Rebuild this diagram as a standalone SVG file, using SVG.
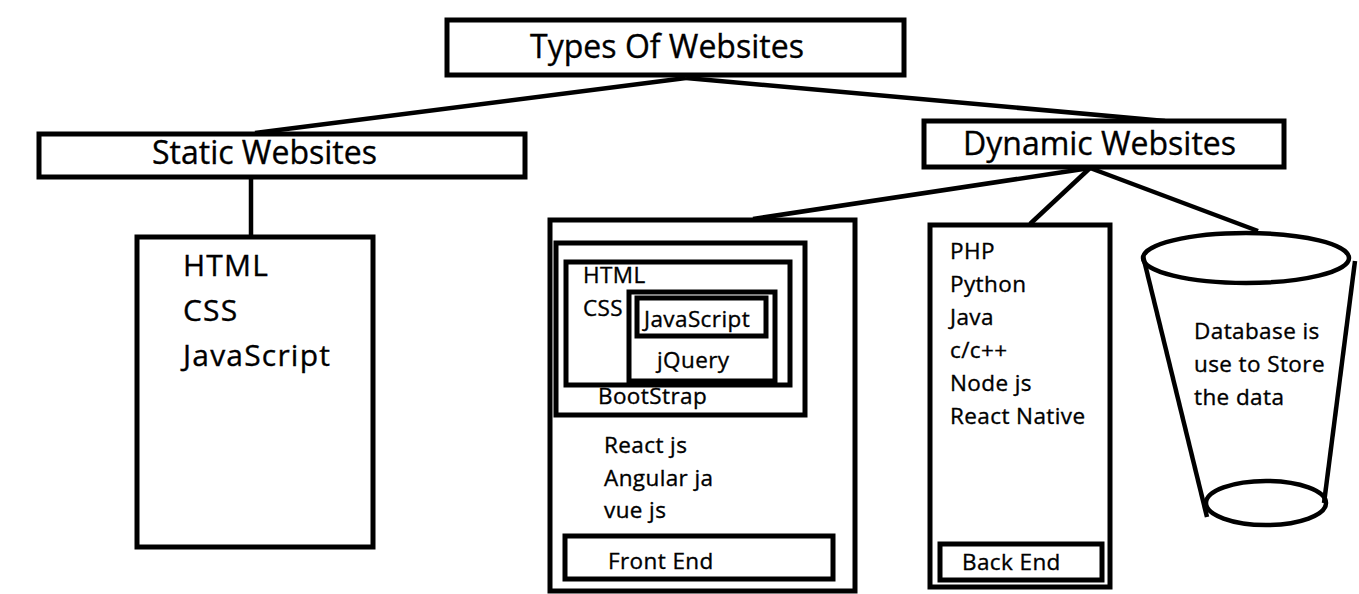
<svg xmlns="http://www.w3.org/2000/svg" width="1359" height="594" viewBox="0 0 1359 594">
<style>
.b{fill:#fff;stroke:#000;stroke-width:5}
.c{fill:none;stroke:#000;stroke-width:4.5}
text{font-family:"Open Sans","Noto Sans",sans-serif;fill:#000;stroke:#000;stroke-width:0.35}
.t1{font-size:32px}
.t2{font-size:30px;letter-spacing:1.2px}
.t3{font-size:22.5px;letter-spacing:0.4px}
</style>
<rect width="1359" height="594" fill="#fff"/>
<g id="connectors">
<line class="c" x1="686" y1="78" x2="255" y2="133"/>
<line class="c" x1="686" y1="78" x2="1165" y2="121"/>
<line class="c" x1="251" y1="178" x2="251" y2="238"/>
<line class="c" x1="1090" y1="168" x2="753" y2="219"/>
<line class="c" x1="1090" y1="168" x2="1030" y2="224"/>
<line class="c" x1="1090" y1="168" x2="1258" y2="231"/>
</g>
<g id="types">
<rect class="b" x="447" y="20" width="457" height="55"/>
<text class="t1" x="667" y="58" text-anchor="middle">Types Of Websites</text>
</g>
<g id="static">
<rect class="b" x="39" y="134" width="486" height="43"/>
<text class="t1" x="152" y="164">Static Websites</text>
</g>
<g id="static-list">
<rect class="b" x="137" y="237" width="236" height="310"/>
<text class="t2" x="183" y="276">HTML</text>
<text class="t2" x="183" y="321">CSS</text>
<text class="t2" x="183" y="366">JavaScript</text>
</g>
<g id="dynamic">
<rect class="b" x="924" y="121" width="360" height="46"/>
<text class="t1" x="963" y="155">Dynamic Websites</text>
</g>
<g id="frontend">
<rect class="b" x="550" y="220" width="305" height="371"/>
<rect class="b" x="556" y="243" width="249" height="172"/>
<rect class="b" x="566" y="262" width="224" height="123"/>
<rect class="b" x="629" y="292" width="146" height="89"/>
<rect class="b" x="637" y="298" width="129" height="38"/>
<text class="t3" x="583" y="283">HTML</text>
<text class="t3" x="583" y="316">CSS</text>
<text class="t3" x="644" y="327">JavaScript</text>
<text class="t3" x="657" y="368">jQuery</text>
<text class="t3" x="598" y="404">BootStrap</text>
<text class="t3" x="604" y="453">React js</text>
<text class="t3" x="604" y="486">Angular ja</text>
<text class="t3" x="604" y="518">vue js</text>
<rect class="b" x="565" y="536" width="268" height="43"/>
<text class="t3" x="608" y="569">Front End</text>
</g>
<g id="backend">
<rect class="b" x="930" y="225" width="180" height="362"/>
<text class="t3" x="950" y="259">PHP</text>
<text class="t3" x="950" y="292">Python</text>
<text class="t3" x="950" y="325">Java</text>
<text class="t3" x="950" y="358">c/c++</text>
<text class="t3" x="950" y="391">Node js</text>
<text class="t3" x="950" y="424">React Native</text>
<rect class="b" x="940" y="544" width="162" height="36"/>
<text class="t3" x="962" y="570">Back End</text>
</g>
<g id="database">
<line class="c" x1="1143" y1="256" x2="1207" y2="517"/>
<line class="c" x1="1355" y1="261" x2="1324" y2="503"/>
<ellipse class="c" cx="1246" cy="258" rx="103" ry="25"/>
<ellipse class="c" cx="1266" cy="503" rx="60" ry="22"/>
<text class="t3" x="1194" y="339">Database is</text>
<text class="t3" x="1194" y="372">use to Store</text>
<text class="t3" x="1194" y="405">the data</text>
</g>
</svg>
